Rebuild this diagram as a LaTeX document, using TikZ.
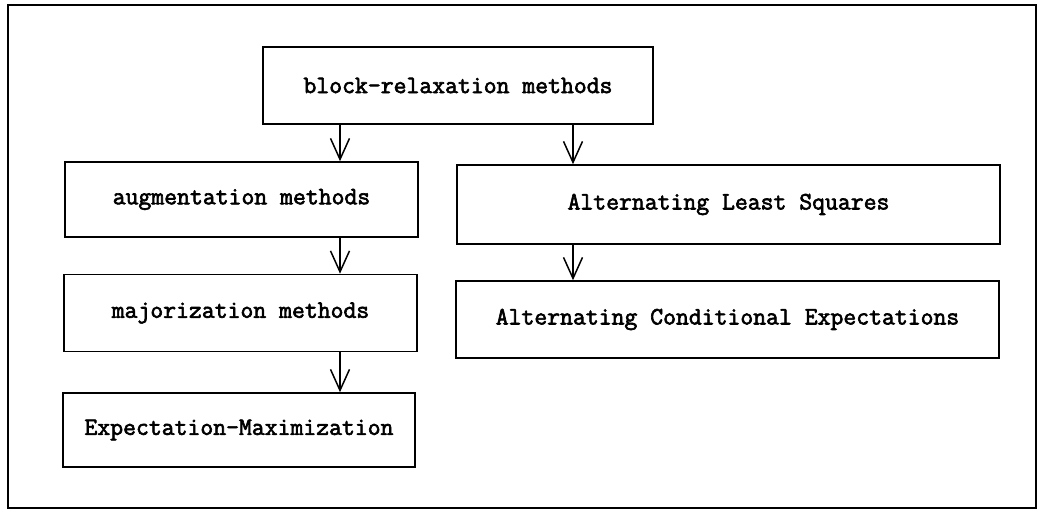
\documentclass[tikz,border=0pt]{standalone}
\usepackage{fontspec}
\newfontfamily\boxttfont[FakeBold=2.5]{Latin Modern Mono}
\usetikzlibrary{arrows.meta}
\begin{document}
\begin{tikzpicture}[x=1pt,y=-1pt,
  box/.style={draw, line width=1.6pt, inner sep=0pt, align=center,
    font=\fontsize{25}{28}\selectfont\boxttfont},
  arr/.style={line width=1.5pt, -{Straight Barb[length=21pt,width=19pt,line width=1.5pt]}}]
\useasboundingbox (0,0) rectangle (1040,513);
\draw[line width=1.8pt] (8,5) rectangle (1036,508);
\node[box, minimum width=390pt, minimum height=77pt] (br) at (458,85.5) {block-relaxation methods};
\node[box, minimum width=353pt, minimum height=75pt] (aug) at (241.5,199.5) {augmentation methods};
\node[box, minimum width=353pt, minimum height=77pt] (maj) at (240.5,313) {majorization methods};
\node[box, minimum width=352pt, minimum height=74pt] (em) at (239,430) {Expectation-Maximization};
\node[box, minimum width=543pt, minimum height=79pt] (als) at (728.5,204.5) {Alternating Least Squares};
\node[box, minimum width=543pt, minimum height=77pt] (ace) at (727.5,319.5) {Alternating Conditional Expectations};
\coordinate (lx) at (340,0);
\coordinate (rx) at (573,0);
\draw[arr] (br.south -| lx) -- (aug.north -| lx);
\draw[arr] (br.south -| rx) -- (als.north -| rx);
\draw[arr] (aug.south -| lx) -- (maj.north -| lx);
\draw[arr] (maj.south -| lx) -- (em.north -| lx);
\draw[arr] (als.south -| rx) -- (ace.north -| rx);
\end{tikzpicture}
\end{document}
